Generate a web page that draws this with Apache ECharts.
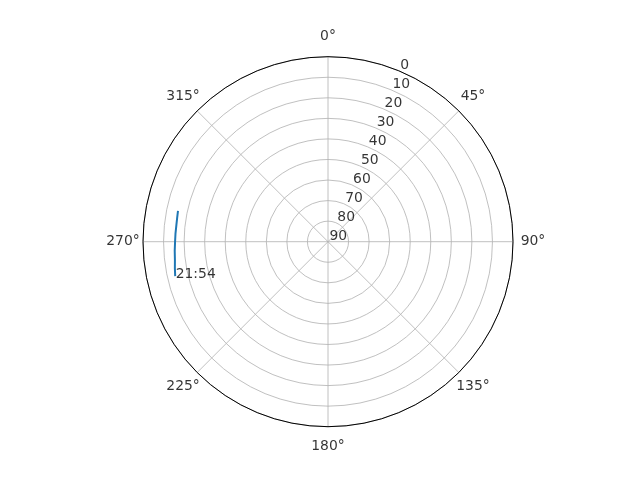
<!DOCTYPE html>
<html>
<head>
<meta charset="utf-8">
<style>html,body{margin:0;padding:0;background:#fff;}#chart{width:640px;height:480px;}</style>
<script src="https://cdn.jsdelivr.net/npm/echarts@6/dist/echarts.min.js"></script>
</head>
<body>
<div id="chart"></div>
<script>
// Track data: azimuth (deg) and elevation (deg)
const azimuth = [281.6, 279.0, 276.3, 273.0, 270.0, 266.6, 263.2, 260.2, 257.3];
const elevation = [15.5, 15.7, 15.8, 15.7, 15.6, 15.3, 15.0, 14.4, 13.8];
const endLabel = '21:54';
// Tick values and labels
const angleTicks = [0, 45, 90, 135, 180, 225, 270, 315];
const angleTickLabels = ['0°', '45°', '90°', '135°', '180°', '225°', '270°', '315°'];
const radiusTicks = [0, 10, 20, 30, 40, 50, 60, 70, 80, 90];
const radiusTickLabels = ['0', '10', '20', '30', '40', '50', '60', '70', '80', '90'];

const FONT = 'DejaVu Sans';
const FS = 13.9;
const CENTER = [328, 241.7];

const chart = echarts.init(document.getElementById('chart'), null, {renderer: 'canvas'});
chart.setOption({
  animation: false,
  backgroundColor: '#fff',
  polar: [
    {center: CENTER, radius: 185},
    {center: CENTER, radius: 205}
  ],
  angleAxis: [
    {
      polarIndex: 0, type: 'value', min: 0, max: 360, interval: 45,
      startAngle: 90, clockwise: true, z: 2,
      axisLine: {show: true, lineStyle: {color: '#000', width: 1}},
      axisTick: {show: false},
      axisLabel: {show: false},
      splitLine: {show: true, lineStyle: {color: '#b0b0b0', width: 0.8}}
    },
    {
      polarIndex: 1, type: 'value', min: 0, max: 360, interval: 45,
      startAngle: 90, clockwise: true, show: false
    }
  ],
  radiusAxis: [
    {
      polarIndex: 0, type: 'value', min: 0, max: 90, interval: 10, inverse: true, z: 1,
      axisLine: {show: false}, axisTick: {show: false}, axisLabel: {show: false},
      splitLine: {show: true, lineStyle: {color: '#b0b0b0', width: 0.8}}
    },
    {polarIndex: 1, type: 'value', min: 0, max: 1, show: false}
  ],
  series: [
    {
      type: 'line', coordinateSystem: 'polar', polarIndex: 0, z: 5,
      showSymbol: false, smooth: false,
      lineStyle: {color: '#1f77b4', width: 2},
      data: azimuth.map((a, i) => [elevation[i], a])
    },
    {
      type: 'scatter', coordinateSystem: 'polar', polarIndex: 0, z: 6,
      symbolSize: 0, silent: true,
      data: [[elevation[elevation.length - 1], azimuth[azimuth.length - 1]]],
      label: {
        show: true, position: 'inside', align: 'left', verticalAlign: 'bottom',
        offset: [0.5, 5], formatter: endLabel,
        color: '#000', fontFamily: FONT, fontSize: FS
      }
    },
    {
      type: 'scatter', coordinateSystem: 'polar', polarIndex: 0, z: 6,
      symbolSize: 0, silent: true,
      data: radiusTicks.map(v => [v, 22.5]),
      label: {
        show: true, position: 'inside', align: 'left', verticalAlign: 'bottom',
        offset: [1.5, 1.5],
        formatter: p => radiusTickLabels[p.dataIndex],
        color: '#000', fontFamily: FONT, fontSize: FS
      }
    },
    {
      type: 'scatter', coordinateSystem: 'polar', polarIndex: 1, z: 6,
      symbolSize: 0, silent: true,
      data: angleTicks.map(a => [1, a]),
      label: {
        show: true, position: 'inside', align: 'center', verticalAlign: 'middle',
        formatter: p => angleTickLabels[p.dataIndex],
        color: '#000', fontFamily: FONT, fontSize: FS
      }
    }
  ]
});
</script>
</body>
</html>
